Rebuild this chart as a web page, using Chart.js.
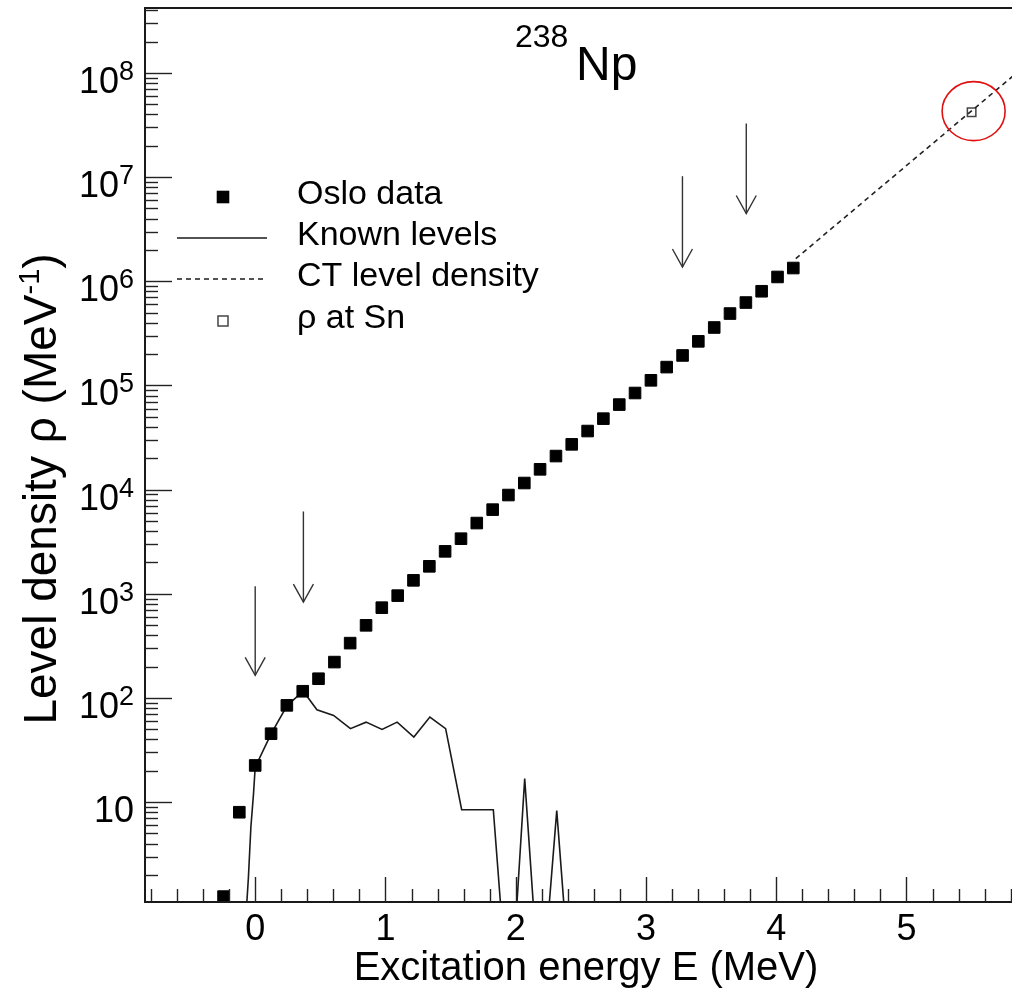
<!DOCTYPE html>
<html><head><meta charset="utf-8">
<script src="https://cdn.jsdelivr.net/npm/chart.js@4.4.1/dist/chart.umd.min.js"></script>
<style>html,body{margin:0;padding:0;background:#fff;overflow:hidden}canvas{display:block}</style>
</head><body>
<canvas id="c" width="1012" height="994"></canvas>
<script>
// ---- data ----
const osloE = [-0.243,-0.122,0.000,0.122,0.243,0.365,0.486,0.608,0.729,0.851,0.972,1.094,1.215,1.337,1.458,1.580,1.701,1.823,1.944,2.066,2.187,2.309,2.430,2.552,2.673,2.795,2.916,3.038,3.159,3.281,3.402,3.524,3.645,3.767,3.888,4.010,4.131];
const osloRho = [1.24,8.0,22.5,45.4,84.9,116,153,221,336,498,736,960,1346,1835,2555,3380,4775,6425,8870,11570,15660,21000,27200,36500,48000,65500,84600,112000,150000,194000,265000,360000,490000,625000,802000,1100000,1340000];
const knownE = [-0.066,-0.052,-0.033,-0.013,0.000,0.123,0.246,0.369,0.474,0.602,0.731,0.851,0.974,1.090,1.218,1.341,1.462,1.585,1.828,1.885,2.008,2.069,2.136,2.256,2.315,2.371];
const knownRho = [1.0,1.9,5.8,12,21.7,45.4,84.9,116,77,68,50.7,58.6,49.9,58.6,42.1,65.5,50.7,8.46,8.46,1.0,1.0,16.8,1.0,1.0,8.3,1.0];
const ctE = [4.15, 5.85];
const ctRho = [1.65e6, 1.01e8];
const snE = [5.5];
const snRho = [4.2e7];
const arrowE = [0.0, 0.37, 3.28, 3.77];
const arrowTop = [1180, 6170, 1.02e7, 3.27e7];
const arrowTip = [165, 832, 1.37e6, 4.47e6];
const xTickValues = [0,1,2,3,4,5];
const xTickLabels = ['0','1','2','3','4','5'];
const yTickValues = [10,1e2,1e3,1e4,1e5,1e6,1e7,1e8];
const yTickBase = ['10','10','10','10','10','10','10','10'];
const yTickExp = ['','2','3','4','5','6','7','8'];
const legendLabels = ['Oslo data','Known levels','CT level density','\u03c1 at Sn'];
const titleMass = '238', titleElem = 'Np';
const xTitle = 'Excitation energy E (MeV)';
const yTitleMain = 'Level density \u03c1 (MeV', yTitleSup = '-1', yTitleEnd = ')';

const X_MIN = -0.846, X_MAX = 5.81, Y_MIN = 1.1, Y_MAX = 4.2e8;
const FONT = '"Liberation Sans", Arial, Helvetica, sans-serif';
const INK = '#1a1a1a';

const pts = (xs, ys) => xs.map((v, i) => ({x: v, y: ys[i]}));

const decor = {
  id: 'decor',
  afterDatasetsDraw(chart) {
    const {ctx, scales: {x, y}} = chart;
    ctx.save();
    // arrows
    ctx.strokeStyle = '#333'; ctx.lineWidth = 1.4;
    arrowE.forEach((e, i) => {
      const px = x.getPixelForValue(e);
      const y0 = y.getPixelForValue(arrowTop[i]);
      const y1 = y.getPixelForValue(arrowTip[i]);
      ctx.beginPath(); ctx.moveTo(px, y0); ctx.lineTo(px, y1); ctx.stroke();
      ctx.beginPath(); ctx.moveTo(px - 10, y1 - 18); ctx.lineTo(px, y1); ctx.lineTo(px + 10, y1 - 18); ctx.stroke();
    });
    // red circle around rho at Sn
    const cx = x.getPixelForValue(snE[0]) + 2, cy = y.getPixelForValue(snRho[0]) - 1;
    ctx.strokeStyle = '#e01010'; ctx.lineWidth = 1.6;
    ctx.beginPath(); ctx.ellipse(cx, cy, 31.5, 29.5, 0, 0, Math.PI * 2); ctx.stroke();
    ctx.restore();
  },
  afterDraw(chart) {
    const {ctx, chartArea: a, scales: {x, y}} = chart;
    ctx.save();
    // frame
    ctx.strokeStyle = INK; ctx.lineWidth = 2;
    ctx.beginPath();
    ctx.moveTo(a.right + 2, a.top); ctx.lineTo(a.left, a.top); ctx.lineTo(a.left, a.bottom); ctx.lineTo(a.right + 2, a.bottom);
    ctx.stroke();
    // x ticks (inside)
    ctx.lineWidth = 1.4; ctx.strokeStyle = '#222';
    for (let k = -4; k <= 29; k++) {
      const v = k * 0.2; if (v < X_MIN || v > X_MAX) continue;
      const px = Math.round(x.getPixelForValue(v)) + 0.5;
      const len = (k % 5 === 0) ? 25 : 13;
      ctx.beginPath(); ctx.moveTo(px, a.bottom); ctx.lineTo(px, a.bottom - len); ctx.stroke();
    }
    // y ticks (inside)
    for (let e = 0; e <= 8; e++) {
      for (let d = 1; d <= 9; d++) {
        const v = d * Math.pow(10, e); if (v < Y_MIN || v > Y_MAX) continue;
        const py = Math.round(y.getPixelForValue(v)) + 0.5;
        const len = d === 1 ? 27 : 13;
        ctx.beginPath(); ctx.moveTo(a.left, py); ctx.lineTo(a.left + len, py); ctx.stroke();
      }
    }
    ctx.fillStyle = '#000';
    // x tick labels
    ctx.font = '36px ' + FONT; ctx.textAlign = 'center'; ctx.textBaseline = 'alphabetic';
    xTickValues.forEach((v, i) => ctx.fillText(xTickLabels[i], x.getPixelForValue(v), 940));
    // y tick labels with exponents
    yTickValues.forEach((v, i) => {
      const py = y.getPixelForValue(v);
      const right = 134;
      ctx.textAlign = 'left';
      ctx.font = '27px ' + FONT;
      const ws = yTickExp[i] ? ctx.measureText(yTickExp[i]).width : 0;
      ctx.font = '36px ' + FONT;
      const wb = ctx.measureText(yTickBase[i]).width;
      ctx.fillText(yTickBase[i], right - ws - wb, py + 20);
      if (yTickExp[i]) { ctx.font = '27px ' + FONT; ctx.fillText(yTickExp[i], right - ws, py + 7); }
    });
    // x title
    ctx.font = '40px ' + FONT; ctx.textAlign = 'center';
    ctx.fillText(xTitle, 586, 980);
    // y title (rotated)
    ctx.save();
    ctx.translate(56, 489); ctx.rotate(-Math.PI / 2);
    const f1 = '46px ' + FONT, f2 = '29px ' + FONT;
    ctx.font = f1; const w1 = ctx.measureText(yTitleMain).width, w3 = ctx.measureText(yTitleEnd).width;
    ctx.font = f2; const w2 = ctx.measureText(yTitleSup).width;
    let sx = -(w1 + w2 + w3) / 2;
    ctx.textAlign = 'left';
    ctx.font = f1; ctx.fillText(yTitleMain, sx, 0); sx += w1;
    ctx.font = f2; ctx.fillText(yTitleSup, sx, -17); sx += w2;
    ctx.font = f1; ctx.fillText(yTitleEnd, sx, 0);
    ctx.restore();
    // title 238Np
    ctx.textAlign = 'left';
    ctx.font = '32px ' + FONT; ctx.fillText(titleMass, 515, 47);
    ctx.font = '48px ' + FONT; ctx.fillText(titleElem, 576, 80);
    // legend
    const rows = [197, 238, 279, 321];
    ctx.fillStyle = '#000'; ctx.fillRect(223 - 6.3, rows[0] - 6.3, 12.6, 12.6);
    ctx.strokeStyle = INK; ctx.lineWidth = 1.6;
    ctx.beginPath(); ctx.moveTo(177, rows[1]); ctx.lineTo(267, rows[1]); ctx.stroke();
    ctx.setLineDash([5, 4]);
    ctx.beginPath(); ctx.moveTo(177, rows[2]); ctx.lineTo(267, rows[2]); ctx.stroke();
    ctx.setLineDash([]);
    ctx.strokeStyle = '#444'; ctx.lineWidth = 1.5;
    ctx.strokeRect(223 - 5, rows[3] - 5, 10, 10);
    ctx.fillStyle = '#000'; ctx.font = '34px ' + FONT;
    legendLabels.forEach((t, i) => ctx.fillText(t, 297, rows[i] + 7));
    ctx.restore();
  }
};

new Chart(document.getElementById('c'), {
  type: 'scatter',
  data: {
    datasets: [
      {label: legendLabels[0], data: pts(osloE, osloRho), pointStyle: 'rect', pointRadius: 8.2,
       backgroundColor: '#000', borderColor: '#000', borderWidth: 1, showLine: false},
      {label: legendLabels[1], data: pts(knownE, knownRho), showLine: true, pointRadius: 0,
       borderColor: INK, borderWidth: 1.6, fill: false, tension: 0},
      {label: legendLabels[2], data: pts(ctE, ctRho), showLine: true, pointRadius: 0,
       borderColor: '#222', borderWidth: 1.6, borderDash: [5, 4], fill: false},
      {label: legendLabels[3], data: pts(snE, snRho), pointStyle: 'rect', pointRadius: 6,
       backgroundColor: 'rgba(0,0,0,0)', borderColor: '#444', borderWidth: 1.5, showLine: false}
    ]
  },
  options: {
    responsive: false, animation: false, devicePixelRatio: 1, events: [],
    layout: {autoPadding: false, padding: {left: 145, top: 8, right: 0, bottom: 92}},
    scales: {
      x: {type: 'linear', min: X_MIN, max: X_MAX, display: false},
      y: {type: 'logarithmic', min: Y_MIN, max: Y_MAX, display: false}
    },
    plugins: {legend: {display: false}, tooltip: {enabled: false}}
  },
  plugins: [decor]
});
</script>
</body></html>
